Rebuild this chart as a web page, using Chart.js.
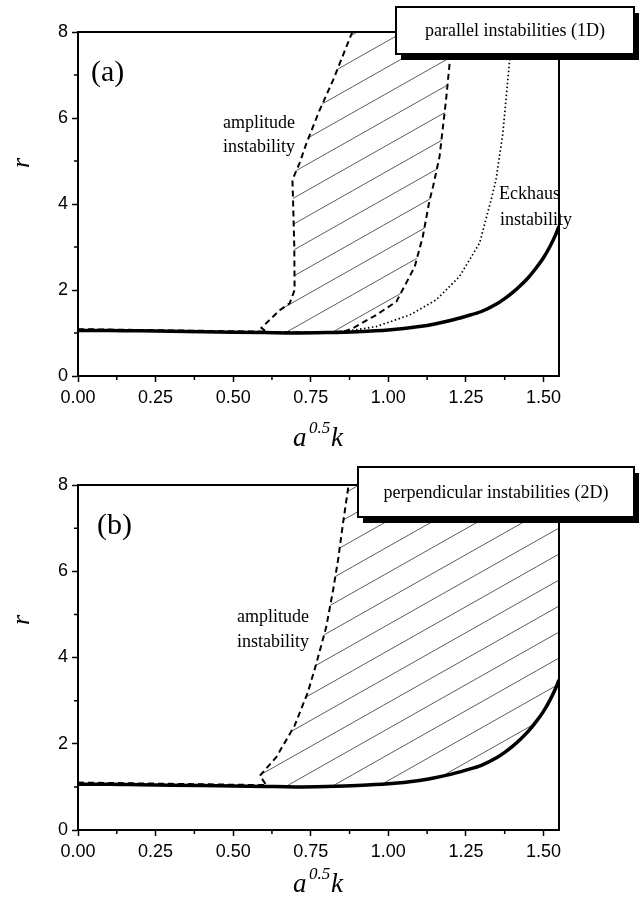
<!DOCTYPE html>
<html>
<head>
<meta charset="utf-8">
<script src="https://cdn.jsdelivr.net/npm/chart.js@4.4.1/dist/chart.umd.min.js"></script>
<style>
  body { margin: 0; background: #fff; }
  canvas { display: block; }
</style>
</head>
<body>
<canvas id="chart-a" width="642" height="454"></canvas>
<canvas id="chart-b" width="642" height="454"></canvas>
<script>
// axis ranges and ticks
const xMax = 1.55;
const yMax = 8;
const xTicks = [0, 0.25, 0.5, 0.75, 1.0, 1.25, 1.5];
const yTicks = [0, 2, 4, 6, 8];
const xMinor = [0.125, 0.375, 0.625, 0.875, 1.125, 1.375];
const yMinor = [1, 3, 5, 7];

// neutral stability curve (solid, both panels)
const neutralK = [0, 0.1, 0.2, 0.3, 0.4, 0.5, 0.6, 0.7, 0.8, 0.9, 1.0, 1.1, 1.15, 1.2, 1.25, 1.3, 1.35, 1.375, 1.4, 1.425, 1.45, 1.475, 1.5, 1.52, 1.54, 1.55];
const neutralR = [1.06, 1.06, 1.05, 1.04, 1.03, 1.02, 1.01, 1.0, 1.01, 1.03, 1.07, 1.15, 1.21, 1.29, 1.39, 1.5, 1.68, 1.8, 1.94, 2.1, 2.28, 2.5, 2.75, 3.0, 3.3, 3.48];

// (a) amplitude instability, left boundary
const ampLeftK = [0, 0.3, 0.607, 0.591, 0.65, 0.682, 0.698, 0.697, 0.693, 0.691, 0.714, 0.736, 0.779, 0.822, 0.865, 0.884];
const ampLeftR = [1.09, 1.06, 1.03, 1.12, 1.53, 1.69, 2.0, 3.0, 4.09, 4.56, 4.95, 5.41, 6.19, 6.88, 7.66, 8.0];

// (a) amplitude instability, right boundary
const ampRightK = [0.6, 0.75, 0.854, 0.886, 0.961, 1.026, 1.085, 1.111, 1.133, 1.144, 1.165, 1.186, 1.197, 1.205];
const ampRightR = [1.02, 1.01, 1.03, 1.11, 1.42, 1.73, 2.54, 3.24, 4.09, 4.4, 5.1, 6.42, 7.23, 8.0];

// (a) Eckhaus instability
const eckK = [0.6, 0.8, 0.875, 0.961, 1.069, 1.154, 1.229, 1.294, 1.331, 1.347, 1.369, 1.39, 1.4];
const eckR = [1.02, 1.02, 1.05, 1.15, 1.42, 1.77, 2.31, 3.09, 4.09, 4.56, 5.64, 7.27, 8.0];

// (b) amplitude instability boundary
const ampBK = [0, 0.3, 0.607, 0.586, 0.639, 0.698, 0.741, 0.768, 0.8, 0.822, 0.838, 0.854, 0.872];
const ampBR = [1.1, 1.07, 1.04, 1.26, 1.69, 2.42, 3.2, 3.86, 4.71, 5.56, 6.26, 7.11, 8.0];

const pts = (ks, rs) => ks.map((k, i) => ({ x: k, y: rs[i] }));

function hatchPattern(canvasId) {
  const c = document.createElement('canvas');
  c.width = 46; c.height = 26;
  const g = c.getContext('2d');
  g.strokeStyle = '#333';
  g.lineWidth = 0.8;
  for (const dy of [-26, 0, 26]) {
    g.beginPath();
    g.moveTo(0, 26 + dy);
    g.lineTo(46, dy);
    g.stroke();
  }
  return document.getElementById(canvasId).getContext('2d').createPattern(c, 'repeat');
}

// frame, minor ticks, labels, boxed titles
const decor = {
  id: 'decor',
  afterDraw(chart, args, o) {
    const { ctx, chartArea: a, scales: { x, y } } = chart;
    ctx.save();
    ctx.strokeStyle = '#000';
    ctx.lineWidth = 2;
    ctx.strokeRect(a.left, a.top, a.right - a.left, a.bottom - a.top);

    ctx.lineWidth = 1.5;
    ctx.beginPath();
    for (const v of xMinor) {
      const px = x.getPixelForValue(v);
      ctx.moveTo(px, a.bottom); ctx.lineTo(px, a.bottom + 4);
    }
    for (const v of yMinor) {
      const py = y.getPixelForValue(v);
      ctx.moveTo(a.left, py); ctx.lineTo(a.left - 4, py);
    }
    ctx.stroke();

    ctx.fillStyle = '#000';
    ctx.textBaseline = 'alphabetic';
    ctx.textAlign = 'left';
    ctx.font = '30px "Liberation Serif"';
    ctx.fillText(o.panel, o.panelX, o.panelY);

    ctx.font = '18px "Liberation Serif"';
    ctx.textBaseline = 'middle';
    for (const n of o.notes) ctx.fillText(n.text, n.x, n.y);

    // y title
    ctx.save();
    ctx.translate(22, o.rY);
    ctx.rotate(-Math.PI / 2);
    ctx.textAlign = 'center';
    ctx.font = 'italic 26px "Liberation Serif"';
    ctx.fillText('r', 0, 0);
    ctx.restore();

    // x title a^0.5 k
    ctx.textBaseline = 'alphabetic';
    ctx.font = 'italic 27px "Liberation Serif"';
    ctx.fillText('a', 293, o.titleY);
    ctx.font = 'italic 17px "Liberation Serif"';
    ctx.fillText('0.5', 309, o.titleY - 13);
    ctx.font = 'italic 27px "Liberation Serif"';
    ctx.fillText('k', 331, o.titleY);

    // boxed title
    const b = o.box;
    ctx.fillRect(b.left + 5, b.top + 6, b.right - b.left, b.bottom - b.top);
    ctx.fillStyle = '#fff';
    ctx.fillRect(b.left, b.top, b.right - b.left, b.bottom - b.top);
    ctx.lineWidth = 2;
    ctx.strokeRect(b.left, b.top, b.right - b.left, b.bottom - b.top);
    ctx.fillStyle = '#000';
    ctx.font = '18px "Liberation Serif"';
    ctx.textAlign = 'center';
    ctx.textBaseline = 'middle';
    ctx.fillText(b.text, (b.left + b.right) / 2, (b.top + b.bottom) / 2 + 1);
    ctx.restore();
  }
};

function lineSet(data, width, dash) {
  return {
    data, showLine: true, pointRadius: 0, borderColor: '#000',
    borderWidth: width, borderDash: dash, fill: false, tension: 0, order: 1
  };
}

function makeChart(id, datasets, decorOpts, padTop) {
  const tickFont = { family: '"Liberation Sans", Arial, sans-serif', size: 18 };
  return new Chart(document.getElementById(id), {
    type: 'scatter',
    data: { datasets },
    options: {
      responsive: false,
      animation: false,
      events: [],
      layout: { padding: { left: 0, right: 83, top: padTop, bottom: 0 } },
      plugins: { legend: { display: false }, tooltip: { enabled: false }, decor: decorOpts },
      scales: {
        x: {
          type: 'linear', min: 0, max: xMax,
          afterFit(s) { s.height = 78; },
          afterBuildTicks(s) { s.ticks = xTicks.map(v => ({ value: v })); },
          ticks: { color: '#000', font: tickFont, padding: 5, maxRotation: 0, callback: v => v.toFixed(2) },
          grid: { drawOnChartArea: false, tickLength: 6, tickWidth: 1.5, tickColor: '#000' },
          border: { display: true, color: '#000', width: 2 }
        },
        y: {
          type: 'linear', min: 0, max: yMax,
          afterFit(s) { s.width = 78; },
          afterBuildTicks(s) { s.ticks = yTicks.map(v => ({ value: v })); },
          ticks: { color: '#000', font: tickFont, padding: 4 },
          grid: { drawOnChartArea: false, tickLength: 6, tickWidth: 1.5, tickColor: '#000' },
          border: { display: true, color: '#000', width: 2 }
        }
      }
    },
    plugins: [decor]
  });
}

const neutralLine = () => Object.assign(lineSet(pts(neutralK, neutralR), 3.5, []),
  { cubicInterpolationMode: 'monotone' });

// panel (a)
const hatchA = pts(ampLeftK, ampLeftR).slice(2).concat(pts(ampRightK, ampRightR).reverse());
makeChart('chart-a', [
  neutralLine(),
  lineSet(pts(ampLeftK, ampLeftR), 2, [6, 4]),
  lineSet(pts(ampRightK, ampRightR), 2, [6, 4]),
  lineSet(pts(eckK, eckR), 1.7, [1.5, 2.5]),
  { data: hatchA, showLine: true, pointRadius: 0, borderWidth: 0, borderColor: 'transparent',
    backgroundColor: hatchPattern('chart-a'), fill: 'shape', order: 5 }
], {
  panel: '(a)', panelX: 91, panelY: 81, rY: 163, titleY: 446,
  notes: [
    { text: 'amplitude', x: 223, y: 123 },
    { text: 'instability', x: 223, y: 147 },
    { text: 'Eckhaus', x: 499, y: 194 },
    { text: 'instability', x: 500, y: 220 }
  ],
  box: { text: 'parallel instabilities (1D)', left: 396, top: 7, right: 634, bottom: 54 }
}, 32);

// panel (b)
const neutralHigh = pts(neutralK, neutralR).filter(p => p.x >= 0.6).reverse();
const hatchB = pts(ampBK, ampBR).slice(2).concat([{ x: xMax, y: yMax }], neutralHigh);
makeChart('chart-b', [
  neutralLine(),
  lineSet(pts(ampBK, ampBR), 2, [6, 4]),
  { data: hatchB, showLine: true, pointRadius: 0, borderWidth: 0, borderColor: 'transparent',
    backgroundColor: hatchPattern('chart-b'), fill: 'shape', order: 5 }
], {
  panel: '(b)', panelX: 97, panelY: 80, rY: 166, titleY: 438,
  notes: [
    { text: 'amplitude', x: 237, y: 163 },
    { text: 'instability', x: 237, y: 188 }
  ],
  box: { text: 'perpendicular instabilities (2D)', left: 358, top: 13, right: 634, bottom: 63 }
}, 31);
</script>
</body>
</html>
